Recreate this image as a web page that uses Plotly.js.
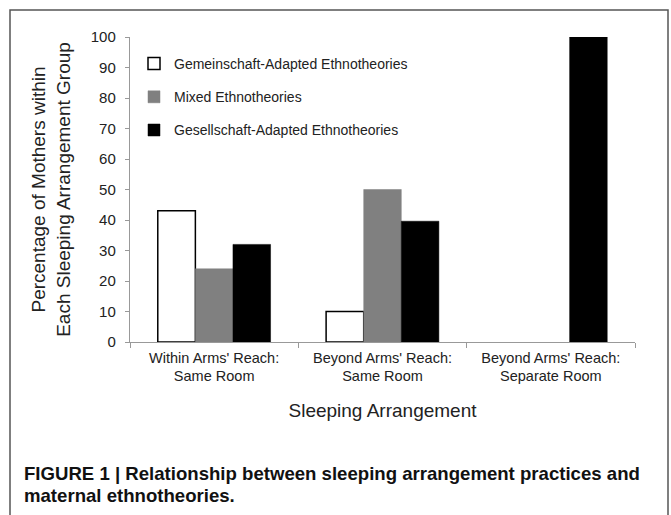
<!DOCTYPE html>
<html>
<head>
<meta charset="utf-8">
<script src="https://cdn.plot.ly/plotly-3.0.1.min.js"></script>
<style>
  html, body { margin: 0; padding: 0; background: #fff; }
  #chart { width: 671px; height: 515px; }
</style>
</head>
<body>
<div id="chart"></div>
<script>
// Data
const categories = ["Within Arms' Reach:<br>Same Room", "Beyond Arms' Reach:<br>Same Room", "Beyond Arms' Reach:<br>Separate Room"];
const seriesNames = ["Gemeinschaft-Adapted Ethnotheories", "Mixed Ethnotheories", "Gesellschaft-Adapted Ethnotheories"];
const gemeinschaft = [43, 10, null];
const mixed = [24, 50, null];
const gesellschaft = [32, 39.6, 100];
const yTicks = [0, 10, 20, 30, 40, 50, 60, 70, 80, 90, 100];
const captionLines = ["FIGURE 1 | Relationship between sleeping arrangement practices and", "maternal ethnotheories."];

const W = 671, H = 515;
const L = 130, R = 36, T = 37, B = 173;
const pw = W - L - R, ph = H - T - B;
const px = x => (x - L) / pw;
const py = y => (H - B - y) / ph;

const fills = ["#ffffff", "#808080", "#000000"];
const lines = ["#000000", "#808080", "#000000"];
const vals = [gemeinschaft, mixed, gesellschaft];

const traces = vals.map((v, i) => ({
  type: 'bar',
  name: seriesNames[i],
  x: categories,
  y: v,
  legendgroup: 'g' + i,
  marker: { color: fills[i], line: { color: lines[i], width: i === 0 ? 1.5 : 0.5 } },
  hoverinfo: 'x+y'
}));

const tickFont = { family: 'Liberation Sans, Arial, sans-serif', size: 15, color: '#222' };

const layout = {
  width: W, height: H,
  margin: { l: L, r: R, t: T, b: B, pad: 0 },
  paper_bgcolor: '#fff', plot_bgcolor: '#fff',
  barmode: 'group',
  bargap: 0.33,
  bargroupgap: 0,
  showlegend: true,
  legend: {
    x: px(134), y: py(48), xanchor: 'left', yanchor: 'top',
    bgcolor: 'rgba(0,0,0,0)',
    font: { family: 'Liberation Sans, Arial, sans-serif', size: 14, color: '#222' },
    tracegroupgap: 12,
    itemwidth: 30,
    traceorder: 'grouped'
  },
  xaxis: {
    type: 'category',
    showline: true, linecolor: '#999', linewidth: 1.2,
    ticks: 'outside', tickson: 'boundaries', ticklen: 5, tickcolor: '#999',
    tickfont: { family: 'Liberation Sans, Arial, sans-serif', size: 14.5, color: '#222' },
    ticklabelstandoff: 2,
    showgrid: false, zeroline: false, fixedrange: true,
    title: { text: 'Sleeping Arrangement', font: { family: 'Liberation Sans, Arial, sans-serif', size: 19, color: '#222' }, standoff: 20 }
  },
  yaxis: {
    range: [0, 100],
    tickvals: yTicks,
    ticktext: yTicks.map(String),
    showline: true, linecolor: '#999', linewidth: 1.2,
    ticks: 'outside', ticklen: 4, tickcolor: '#999',
    tickfont: tickFont,
    ticklabelstandoff: 6,
    showgrid: false, zeroline: false, fixedrange: true,
    title: { text: 'Percentage of Mothers within<br>Each Sleeping Arrangement Group', font: { family: 'Liberation Sans, Arial, sans-serif', size: 19, color: '#222' }, standoff: 15 }
  },
  shapes: [{
    type: 'rect', xref: 'paper', yref: 'paper',
    x0: px(10), x1: px(668), y0: py(530), y1: py(10),
    line: { color: '#555', width: 1.5 }, fillcolor: 'rgba(0,0,0,0)', layer: 'below'
  }],
  annotations: captionLines.map((t, i) => ({
    xref: 'paper', yref: 'paper', x: px(22), y: py(473 + i * 22),
    xanchor: 'left', yanchor: 'middle', showarrow: false,
    text: '<b>' + t + '</b>',
    font: { family: 'Liberation Sans, Arial, sans-serif', size: 18.6, color: '#111' }
  }))
};

Plotly.newPlot('chart', traces, layout, { displayModeBar: false, staticPlot: true });
</script>
</body>
</html>
